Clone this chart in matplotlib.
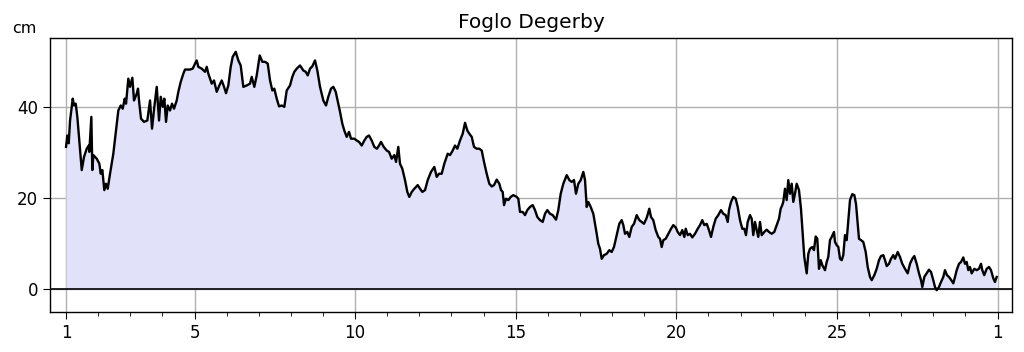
import matplotlib
matplotlib.use("Agg")
import matplotlib.pyplot as plt

# sea level, Foglo Degerby, days since the 1st of the month
t_day = [
    0.000, 0.040, 0.084, 0.125, 0.209, 0.249, 0.302, 0.352, 0.414, 0.489,
    0.560, 0.644, 0.707, 0.725, 0.788, 0.819, 0.850, 0.956, 1.037, 1.080,
    1.130, 1.192, 1.245, 1.298, 1.370, 1.472, 1.557, 1.628, 1.703, 1.765,
    1.827, 1.868, 1.939, 1.992, 2.064, 2.117, 2.201, 2.241, 2.282, 2.335,
    2.428, 2.531, 2.615, 2.677, 2.749, 2.824, 2.895, 2.948, 3.010, 3.060,
    3.113, 3.166, 3.237, 3.300, 3.362, 3.446, 3.496, 3.571, 3.652, 3.704,
    3.860, 3.944, 4.016, 4.069, 4.118, 4.224, 4.327, 4.380, 4.430, 4.536,
    4.607, 4.691, 4.772, 4.847, 4.919, 4.981, 5.052, 5.127, 5.189, 5.283,
    5.364, 5.438, 5.519, 5.625, 5.728, 5.781, 5.862, 5.936, 6.030, 6.111,
    6.195, 6.279, 6.351, 6.422, 6.484, 6.559, 6.631, 6.715, 6.796, 6.870,
    6.973, 7.045, 7.107, 7.182, 7.284, 7.387, 7.462, 7.524, 7.596, 7.667,
    7.751, 7.823, 7.907, 8.010, 8.094, 8.165, 8.249, 8.321, 8.396, 8.477,
    8.530, 8.601, 8.663, 8.738, 8.810, 8.872, 8.975, 9.049, 9.121, 9.205,
    9.286, 9.361, 9.432, 9.516, 9.597, 9.681, 9.744, 9.806, 9.890, 9.983,
    10.055, 10.139, 10.220, 10.273, 10.344, 10.397, 10.469, 10.553, 10.625, 10.687,
    10.762, 10.843, 10.948, 11.020, 11.092, 11.176, 11.260, 11.362, 11.465, 11.540,
    11.611, 11.695, 11.776, 11.882, 11.954, 12.038, 12.110, 12.181, 12.265, 12.349,
    12.421, 12.493, 12.555, 12.630, 12.701, 12.785, 12.866, 12.941, 13.012, 13.096,
    13.177, 13.252, 13.324, 13.408, 13.489, 13.542, 13.594, 13.635, 13.697, 13.769,
    13.844, 13.925, 14.030, 14.080, 14.133, 14.217, 14.289, 14.360, 14.444, 14.528,
    14.600, 14.672, 14.756, 14.840, 14.911, 14.983, 15.067, 15.151, 15.254, 15.325,
    15.400, 15.481, 15.587, 15.668, 15.742, 15.814, 15.876, 15.948, 16.023, 16.104,
    16.157, 16.209, 16.259, 16.334, 16.415, 16.468, 16.521, 16.570, 16.623, 16.676,
    16.748, 16.832, 16.913, 16.987, 17.059, 17.143, 17.224, 17.299, 17.349, 17.402,
    17.473, 17.535, 17.610, 17.682, 17.766, 17.847, 17.922, 17.993, 18.077, 18.158,
    18.211, 18.282, 18.357, 18.438, 18.491, 18.544, 18.594, 18.669, 18.750, 18.834,
    18.905, 18.980, 19.042, 19.114, 19.186, 19.248, 19.292, 19.354, 19.425, 19.497,
    19.581, 19.665, 19.736, 19.808, 19.870, 19.945, 20.016, 20.079, 20.150, 20.225,
    20.306, 20.390, 20.462, 20.536, 20.599, 20.639, 20.702, 20.773, 20.848, 20.910,
    20.982, 21.053, 21.115, 21.168, 21.221, 21.293, 21.346, 21.395, 21.448, 21.501,
    21.551, 21.604, 21.657, 21.738, 21.813, 21.884, 21.968, 22.049, 22.124, 22.195,
    22.248, 22.298, 22.329, 22.382, 22.435, 22.485, 22.538, 22.591, 22.641, 22.693,
    22.746, 22.818, 22.880, 22.933, 22.983, 23.058, 23.108, 23.160, 23.232, 23.285,
    23.338, 23.388, 23.441, 23.494, 23.544, 23.628, 23.681, 23.730, 23.783, 23.836,
    23.908, 23.939, 23.992, 24.042, 24.095, 24.148, 24.197, 24.250, 24.303, 24.353,
    24.406, 24.477, 24.540, 24.593, 24.645, 24.686, 24.748, 24.820, 24.895, 24.957,
    25.029, 25.082, 25.163, 25.237, 25.309, 25.371, 25.443, 25.496, 25.549, 25.620,
    25.682, 25.754, 25.807, 25.891, 25.962, 26.034, 26.118, 26.202, 26.274, 26.345,
    26.408, 26.482, 26.554, 26.616, 26.657, 26.719, 26.794, 26.865, 26.928, 26.999,
    27.052, 27.105, 27.176, 27.239, 27.310, 27.363, 27.425, 27.488, 27.550, 27.622,
    27.675, 27.728, 27.799, 27.862, 27.933, 27.986, 28.039, 28.089, 28.141, 28.194,
    28.275, 28.350, 28.421, 28.484, 28.524, 28.586, 28.661, 28.733, 28.795, 28.867,
    28.919, 28.972,
]
level_cm = [
    31.3, 33.8, 32.1, 37.1, 41.9, 40.4, 40.8, 37.9, 32.7, 26.2,
    29.1, 30.9, 31.6, 30.2, 37.9, 26.2, 29.5, 28.7, 27.6, 25.4,
    26.2, 21.8, 23.2, 22.1, 25.4, 29.8, 34.9, 39.3, 40.4, 39.7,
    41.9, 40.8, 46.3, 44.5, 46.5, 41.5, 43.0, 44.1, 40.8, 37.5,
    36.8, 37.1, 41.5, 35.3, 40.1, 44.5, 37.1, 42.3, 40.1, 41.9,
    36.8, 40.4, 39.3, 40.8, 39.7, 41.5, 43.4, 45.6, 47.4, 48.3,
    48.3, 48.5, 49.6, 50.3, 48.9, 48.5, 47.8, 48.9, 47.4, 45.2,
    45.9, 43.4, 44.8, 45.9, 44.5, 43.1, 44.8, 48.9, 51.1, 52.2,
    50.3, 49.2, 44.5, 44.8, 45.2, 46.7, 44.5, 47.0, 51.4, 50.0,
    50.0, 49.6, 45.9, 43.7, 44.1, 41.9, 40.2, 40.4, 40.1, 43.7,
    44.8, 46.7, 47.8, 48.5, 49.2, 48.1, 47.8, 47.0, 48.5, 49.0,
    50.3, 48.1, 44.5, 41.5, 40.4, 42.3, 44.1, 44.5, 43.4, 40.8,
    39.0, 36.4, 34.9, 33.5, 34.6, 33.1, 33.1, 32.7, 32.4, 31.6,
    32.7, 33.5, 33.8, 32.7, 31.3, 30.9, 31.6, 32.4, 31.3, 30.5,
    30.2, 28.7, 29.5, 28.0, 31.3, 27.6, 26.5, 24.0, 21.4, 20.3,
    21.4, 22.1, 22.9, 22.1, 21.4, 21.8, 24.0, 25.8, 26.9, 24.7,
    25.4, 25.4, 27.6, 29.8, 29.5, 30.5, 31.6, 30.9, 32.7, 34.2,
    36.6, 34.9, 34.2, 33.5, 31.3, 30.9, 30.9, 30.5, 28.0, 25.4,
    23.2, 22.6, 22.9, 24.1, 23.2, 21.8, 21.4, 18.5, 19.9, 19.6,
    20.3, 20.7, 20.3, 19.9, 17.0, 17.0, 16.3, 17.4, 18.1, 18.5,
    17.4, 15.9, 15.2, 14.8, 16.6, 17.4, 16.6, 16.3, 15.3, 17.4,
    21.0, 23.2, 25.1, 24.0, 23.6, 24.0, 21.0, 23.2, 24.0, 25.8,
    24.0, 18.1, 19.2, 18.1, 16.6, 14.4, 12.2, 10.0, 8.9, 6.7,
    7.5, 7.8, 8.6, 8.2, 9.3, 11.9, 14.4, 15.2, 14.1, 12.2,
    12.6, 11.5, 13.7, 14.4, 16.3, 15.2, 14.8, 14.4, 15.7, 17.7,
    15.9, 15.2, 13.0, 11.5, 11.1, 9.3, 10.8, 11.1, 12.2, 13.3,
    14.1, 13.6, 12.6, 11.9, 13.0, 11.5, 13.3, 11.9, 12.2, 11.4,
    12.2, 13.3, 14.1, 15.2, 14.1, 14.4, 13.0, 11.5, 13.7, 15.5,
    16.3, 17.4, 16.6, 16.3, 14.8, 17.4, 19.2, 20.3, 19.9, 18.1,
    15.2, 13.3, 13.3, 11.9, 14.8, 16.3, 15.5, 11.9, 14.8, 13.0,
    11.5, 14.8, 11.9, 12.6, 13.1, 12.6, 12.2, 12.6, 14.1, 15.5,
    17.7, 18.5, 19.2, 22.1, 19.6, 24.0, 21.0, 23.2, 19.2, 21.0,
    23.2, 21.8, 17.7, 12.2, 7.1, 3.5, 7.8, 8.9, 9.3, 8.6,
    11.6, 11.1, 4.5, 6.4, 5.3, 4.2, 6.0, 7.1, 10.8, 11.5,
    12.6, 10.4, 9.7, 9.3, 6.7, 6.4, 7.5, 11.9, 10.8, 15.2,
    19.6, 20.9, 20.7, 18.8, 14.4, 11.1, 10.8, 10.4, 8.2, 4.9,
    2.7, 2.0, 3.1, 4.5, 6.4, 7.3, 7.5, 6.4, 5.1, 5.6,
    6.7, 7.5, 6.7, 8.2, 7.1, 5.6, 4.5, 3.5, 5.6, 6.7,
    7.3, 5.6, 3.5, 2.0, 0.5, 2.7, 3.5, 4.3, 3.8, 2.0,
    0.5, -0.2, 0.5, 1.6, 2.7, 4.2, 3.1, 2.7, 2.1, 1.3,
    2.7, 4.2, 5.6, 6.0, 7.0, 5.6, 6.0, 4.2, 4.9, 3.5,
    4.5, 4.2, 4.5, 5.6, 4.2, 3.1, 4.5, 4.9, 4.2, 2.4,
    1.6, 2.7,
]

tick_days = [1, 5, 10, 15, 20, 25, 30]
tick_labels = ["1", "5", "10", "15", "20", "25", "1"]
y_ticks = [0, 20, 40]

x = [d + 1 for d in t_day]

fig = plt.figure(figsize=(10.24, 3.52), dpi=100)
ax = fig.add_axes([0.0488, 0.1136, 0.9395, 0.778])

ax.fill_between(x, 0, level_cm, color="#e1e1fa", lw=0, zorder=1)
ax.plot(x, level_cm, color="black", lw=1.7, zorder=3)
ax.axhline(0, color="black", lw=1.2, zorder=2)

ax.set_xlim(0.5, 30.45)
ax.set_ylim(-5, 55.2)
ax.set_xticks(tick_days)
ax.set_xticklabels(tick_labels)
ax.set_xticks(range(1, 31), minor=True)
ax.set_yticks(y_ticks)
ax.grid(True, which="major", color="#b0b0b0", lw=1, zorder=0)
ax.set_axisbelow(True)
ax.tick_params(which="major", length=5, labelsize=12, direction="out")
ax.tick_params(which="minor", length=3)
for s in ax.spines.values():
    s.set_linewidth(1)

ax.set_title("Foglo Degerby", fontsize=14.5, pad=7)
fig.text(0.012, 0.905, "cm", fontsize=11.5)

fig.savefig("out.png", dpi=100)
